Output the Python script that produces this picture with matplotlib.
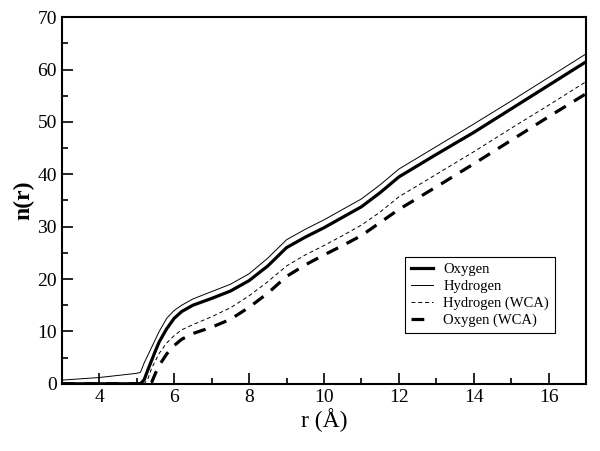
import numpy as np
import matplotlib
matplotlib.use('Agg')
import matplotlib.pyplot as plt
from matplotlib.ticker import MultipleLocator

plt.rcParams['font.family'] = ['Liberation Serif', 'DejaVu Serif']

# distance grid (Angstrom) and cumulative counts
r = [3, 4, 5, 5.1, 5.2, 5.3, 5.4, 5.5, 5.6, 5.8, 6.0, 6.2, 6.5, 7, 7.5, 8,
     8.5, 9, 9.5, 10, 10.5, 11, 11.5, 12, 13, 14, 15, 16, 17]
oxygen = [0, 0, 0, 0, 0.8, 2.7, 4.5, 6.3, 8, 10.5, 12.5, 13.8, 15, 16.3, 17.7, 19.7,
          22.5, 26, 28, 29.8, 31.8, 33.8, 36.5, 39.5, 43.8, 48, 52.5, 57, 61.5]
hydrogen = [0.7, 1.2, 2.0, 2.2, 4, 5.5, 7, 8.5, 10, 12.5, 14, 15, 16.2, 17.6, 19, 21,
            24, 27.5, 29.5, 31.3, 33.3, 35.3, 38, 41, 45.3, 49.6, 54, 58.5, 63]
hydrogen_wca = [0, 0, 0, 0, 0, 1, 3, 4.4, 5.8, 7.8, 9.2, 10.3, 11.3, 12.8, 14.5, 16.8,
                19.5, 22.5, 24.6, 26.4, 28.3, 30.3, 32.8, 35.7, 40, 44.3, 48.8, 53.2, 57.7]
oxygen_wca = [0, 0, 0, 0, 0, 0, 0.3, 2, 3.5, 5.7, 7.3, 8.5, 9.6, 10.8, 12.3, 14.6,
              17.3, 20.5, 22.7, 24.6, 26.4, 28.3, 30.8, 33.3, 37.6, 42, 46.5, 51, 55.4]

fig = plt.figure(figsize=(6, 4.51), dpi=100)
ax = fig.add_axes([0.103, 0.149, 0.874, 0.813])

ax.plot(r, oxygen, color='k', lw=2.3, label='Oxygen')
ax.plot(r, hydrogen, color='k', lw=0.7, label='Hydrogen')
ax.plot(r, hydrogen_wca, color='k', lw=0.7, dashes=(4, 3), label='Hydrogen (WCA)')
ax.plot(r, oxygen_wca, color='k', lw=2.3, dashes=(4, 3), label='Oxygen (WCA)')

ax.set_xlim(3, 17)
ax.set_ylim(0, 70)
ax.xaxis.set_major_locator(MultipleLocator(2))
ax.xaxis.set_minor_locator(MultipleLocator(1))
ax.yaxis.set_major_locator(MultipleLocator(10))
ax.yaxis.set_minor_locator(MultipleLocator(5))
ax.tick_params(which='both', direction='in', top=False, right=False, labelsize=14, width=1.2)
ax.tick_params(which='major', length=8)
ax.tick_params(which='minor', length=4)
for s in ax.spines.values():
    s.set_linewidth(1.5)

ax.set_xlabel('r (Å)', fontsize=17, labelpad=2)
ax.set_ylabel('n(r)', fontsize=17, fontweight='bold', labelpad=2)

leg = ax.legend(loc='lower left', bbox_to_anchor=(0.655, 0.139), fontsize=10.5,
                handlelength=1.5, handletextpad=0.7, fancybox=False, framealpha=1,
                edgecolor='k', borderpad=0.4, labelspacing=0.25, borderaxespad=0)
leg.get_frame().set_linewidth(0.8)

fig.savefig('out.png', dpi=100)
